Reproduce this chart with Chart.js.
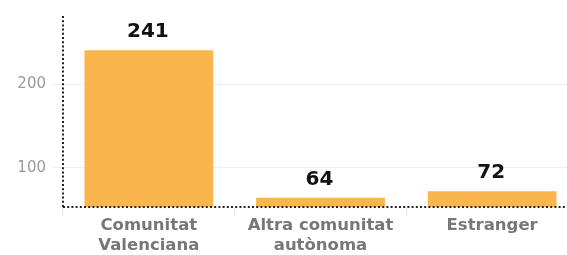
<!DOCTYPE html>
<html>
<head>
<meta charset="utf-8">
<script src="https://cdn.jsdelivr.net/npm/chart.js@4"></script>
<style>
  html, body { margin: 0; padding: 0; overflow: hidden; background: #fff; }
  #wrap { width: 580px; height: 255px; }
</style>
</head>
<body>
<div id="wrap"><canvas id="chart"></canvas></div>
<script>
const categories = [["Comunitat", "Valenciana"], ["Altra comunitat", "autònoma"], "Estranger"];
const values = [241, 64, 72];
const yTicks = [100, 200];

// value labels above each bar + dotted axis lines
const valueLabels = {
  id: 'valueLabels',
  afterDatasetsDraw(chart) {
    const { ctx, chartArea: { left, right, top, bottom } } = chart;
    const meta = chart.getDatasetMeta(0);
    ctx.save();
    ctx.font = 'bold 20px "DejaVu Sans"';
    ctx.fillStyle = '#111';
    ctx.textAlign = 'center';
    ctx.textBaseline = 'bottom';
    meta.data.forEach((bar, i) => {
      ctx.fillText(values[i], bar.x - 1, bar.y - 8);
    });
    ctx.strokeStyle = '#222';
    ctx.lineWidth = 2;
    ctx.setLineDash([2, 2.2]);
    ctx.beginPath();
    ctx.moveTo(left, top);
    ctx.lineTo(left, bottom);
    ctx.moveTo(left, bottom);
    ctx.lineTo(right + 10, bottom);
    ctx.stroke();
    ctx.restore();
  }
};

new Chart(document.getElementById('chart'), {
  type: 'bar',
  data: {
    labels: categories,
    datasets: [{
      data: values,
      backgroundColor: '#FBB54D',
      categoryPercentage: 0.75,
      barPercentage: 1
    }]
  },
  options: {
    responsive: true,
    maintainAspectRatio: false,
    animation: false,
    layout: { padding: { top: 14, right: 2, left: 0, bottom: 0 } },
    plugins: { legend: { display: false }, tooltip: { enabled: false } },
    scales: {
      x: {
        afterFit(scale) { scale.height = 48; },
        grid: {
          offset: true,
          drawOnChartArea: false,
          color: '#e4e4e4',
          tickLength: 8
        },
        border: { display: false },
        ticks: {
          color: '#777',
          font: { family: 'DejaVu Sans', size: 16.5, weight: 'bold', lineHeight: 1.2 },
          padding: 1,
          maxRotation: 0,
          autoSkip: false
        }
      },
      y: {
        min: 53,
        max: 282,
        afterFit(scale) { scale.width = 63; },
        afterBuildTicks(scale) { scale.ticks = yTicks.map(v => ({ value: v })); },
        grid: { color: '#eeeeee', tickLength: 10 },
        border: { display: false },
        ticks: {
          color: '#9a9a9a',
          font: { family: 'DejaVu Sans', size: 15 },
          padding: 7
        }
      }
    }
  },
  plugins: [valueLabels]
});
</script>
</body>
</html>
